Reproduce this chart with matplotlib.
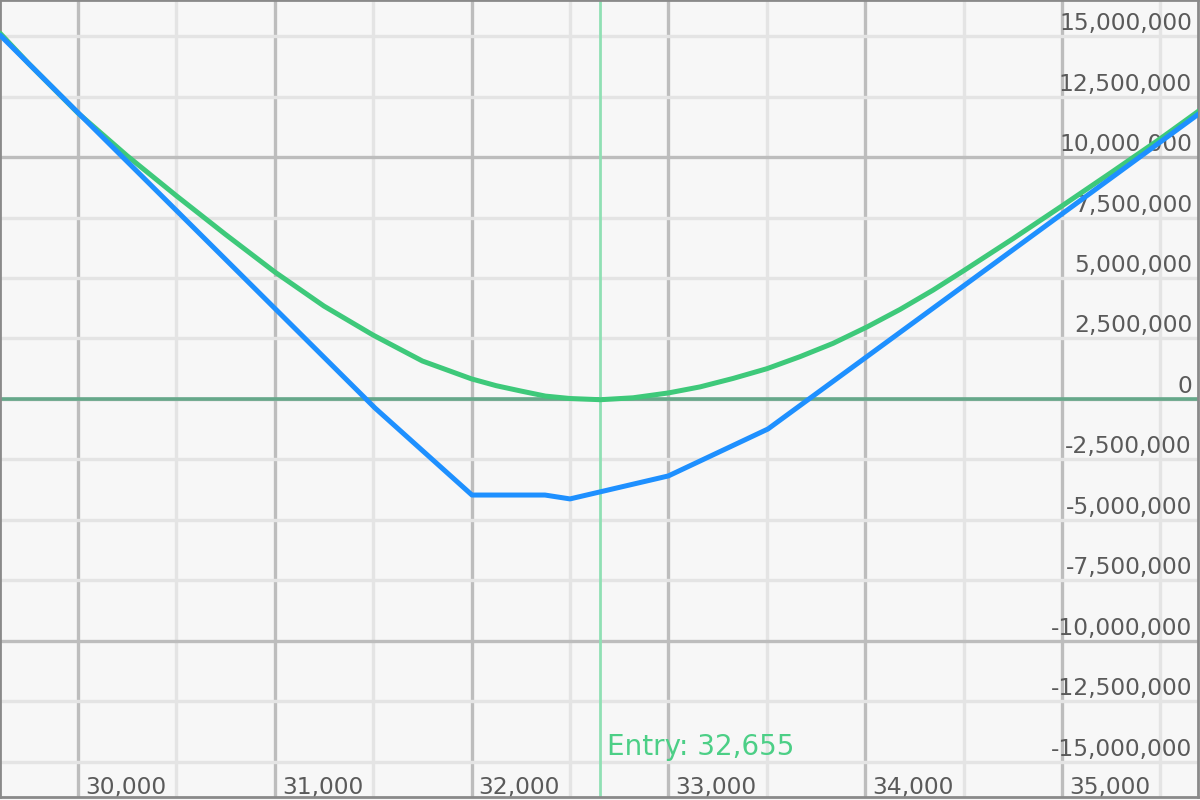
import matplotlib.pyplot as plt
from matplotlib.ticker import MultipleLocator

# price (x) vs P&L (y)
expiry_x = [29604, 31509, 32002, 32373, 32500, 33000, 33506, 35701]
expiry_pnl = [15.04e6, -0.37e6, -3.97e6, -3.97e6, -4.13e6, -3.18e6, -1.24e6, 11.82e6]

today_x = [29604, 29750, 30000, 30250, 30500, 30750, 31000, 31250, 31500, 31750,
           32000, 32125, 32250, 32375, 32500, 32655, 32821, 33000, 33161, 33329,
           33500, 33669, 33837, 34010, 34177, 34345, 34500, 34750, 35000, 35250,
           35500, 35701]
today_pnl = [15.12e6, 13.86e6, 11.82e6, 10.05e6, 8.4e6, 6.8e6, 5.25e6, 3.84e6, 2.64e6, 1.57e6,
             0.83e6, 0.55e6, 0.33e6, 0.12e6, 0.02e6, -0.03e6, 0.05e6, 0.25e6, 0.5e6, 0.85e6,
             1.25e6, 1.75e6, 2.3e6, 2.98e6, 3.7e6, 4.5e6, 5.3e6, 6.62e6, 7.98e6, 9.36e6,
             10.76e6, 11.94e6]

entry_price = 32655
x_labels = [30000, 31000, 32000, 33000, 34000, 35000]
y_labels = [15e6, 12.5e6, 10e6, 7.5e6, 5e6, 2.5e6, 0, -2.5e6, -5e6, -7.5e6, -10e6, -12.5e6, -15e6]

fig = plt.figure(figsize=(12, 8), dpi=100)
fig.patch.set_facecolor('#f7f7f7')
ax = fig.add_axes([0, 3 / 800, 1198 / 1200, 797 / 800])
ax.set_facecolor('#f7f7f7')

ax.set_xlim(29604, 35691)
ax.set_ylim(-16.45e6, 16.49e6)

ax.xaxis.set_major_locator(MultipleLocator(1000))
ax.xaxis.set_minor_locator(MultipleLocator(500))
ax.yaxis.set_major_locator(MultipleLocator(10e6))
ax.yaxis.set_minor_locator(MultipleLocator(2.5e6))
ax.grid(which='minor', color='#e4e4e4', lw=2.4, zorder=0)
ax.grid(which='major', color='#bdbdbd', lw=2.4, zorder=0)
ax.set_axisbelow(True)
ax.tick_params(which='both', length=0, labelbottom=False, labelleft=False)
for s in ax.spines.values():
    s.set_color('#8a8a8a')
    s.set_linewidth(2)

# zero line and entry marker
ax.axhline(0, color='#66a88a', lw=2.6, zorder=1)
ax.axvline(entry_price, color='#90e0b4', lw=2, zorder=1)
ax.annotate(f"Entry: {entry_price:,}", xy=(entry_price, 0), xycoords=('data', 'axes fraction'),
            xytext=(7, 42), textcoords='offset pixels', ha='left', va='baseline',
            fontsize=20, color='#4ccf86', zorder=2)

# tick labels drawn inside the plot area
for v in y_labels:
    ax.annotate(f"{v:,.0f}", xy=(1, v), xycoords=('axes fraction', 'data'),
                xytext=(-6, 6), textcoords='offset pixels', ha='right', va='baseline',
                fontsize=16.8, color='#5a5a5a', zorder=2)
for v in x_labels:
    ax.annotate(f"{v:,}", xy=(v, 0), xycoords=('data', 'axes fraction'),
                xytext=(7, 3), textcoords='offset pixels', ha='left', va='baseline',
                fontsize=16.8, color='#5a5a5a', zorder=2)

ax.plot(today_x, today_pnl, color='#3ec97a', lw=3.6, zorder=3,
        solid_capstyle='round', solid_joinstyle='round')
ax.plot(expiry_x, expiry_pnl, color='#1e90ff', lw=3.6, zorder=4,
        solid_capstyle='round', solid_joinstyle='round')

fig.savefig('out.png', dpi=100, facecolor=fig.get_facecolor())
